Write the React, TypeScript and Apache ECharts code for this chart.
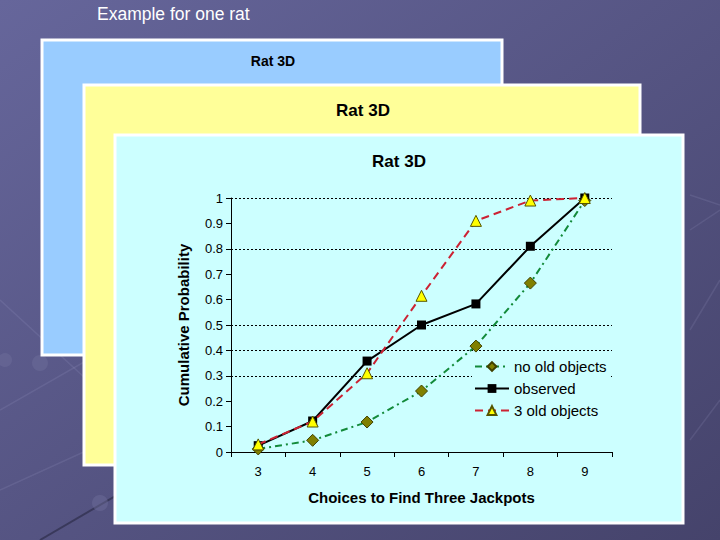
import React, { useEffect, useRef } from "react";
import * as echarts from "echarts";

const categories = ["3", "4", "5", "6", "7", "8", "9"];
const noOldObjects = [0.012, 0.046, 0.118, 0.24, 0.417, 0.665, 0.99];
const observed = [0.025, 0.122, 0.358, 0.5, 0.583, 0.81, 1.0];
const threeOldObjects = [0.03, 0.12, 0.31, 0.615, 0.91, 0.99, 1.0];
const gridLineValues = [0.3, 0.4, 0.5, 0.8, 1];

const FONT = "Liberation Sans, Arial, sans-serif";

export default function App() {
  const ref = useRef<HTMLDivElement>(null);
  useEffect(() => {
    const chart = echarts.init(ref.current!, undefined, { renderer: "svg" });
    const deco = "rgba(190,190,230,0.12)";
    const dark = "rgba(25,25,45,0.45)";
    const dot = "rgba(110,110,155,0.45)";
    const option: any = {
      animation: false,
      backgroundColor: {
        type: "linear", x: 0, y: 0, x2: 1, y2: 1,
        colorStops: [
          { offset: 0, color: "#66669b" },
          { offset: 1, color: "#45436b" },
        ],
      },
      graphic: [
        { type: "line", z: -5, shape: { x1: 0, y1: 300, x2: 240, y2: 520 }, style: { stroke: deco, lineWidth: 1.5 } },
        { type: "line", z: -5, shape: { x1: 0, y1: 410, x2: 140, y2: 330 }, style: { stroke: deco, lineWidth: 1.5 } },
        { type: "line", z: -5, shape: { x1: 40, y1: 540, x2: 160, y2: 470 }, style: { stroke: dark, lineWidth: 2 } },
        { type: "line", z: -5, shape: { x1: 0, y1: 490, x2: 110, y2: 440 }, style: { stroke: deco, lineWidth: 1.5 } },
        { type: "line", z: -5, shape: { x1: 690, y1: 230, x2: 720, y2: 210 }, style: { stroke: deco, lineWidth: 1.5 } },
        { type: "line", z: -5, shape: { x1: 690, y1: 330, x2: 720, y2: 280 }, style: { stroke: deco, lineWidth: 1.5 } },
        { type: "line", z: -5, shape: { x1: 690, y1: 195, x2: 720, y2: 205 }, style: { stroke: deco, lineWidth: 1.5 } },
        { type: "line", z: -5, shape: { x1: 690, y1: 440, x2: 720, y2: 400 }, style: { stroke: deco, lineWidth: 1.5 } },
        { type: "circle", z: -5, shape: { cx: 40, cy: 363, r: 8 }, style: { fill: dot } },
        { type: "circle", z: -5, shape: { cx: 100, cy: 503, r: 8 }, style: { fill: dot } },
        { type: "circle", z: -5, shape: { cx: 5, cy: 360, r: 7 }, style: { fill: dot } },
        { type: "text", z: -4, left: 97, top: 5, style: { text: "Example for one rat", fill: "#ffffff", font: `17.5px ${FONT}` } },
        { type: "rect", z: -3, shape: { x: 42, y: 40, width: 460, height: 315 }, style: { fill: "#99ccff", stroke: "#ffffff", lineWidth: 3 } },
        { type: "text", z: -3, x: 273, y: 61, style: { text: "Rat 3D", fill: "#000000", font: `bold 14px ${FONT}`, textAlign: "center", textVerticalAlign: "middle" } },
        { type: "rect", z: -2, shape: { x: 84, y: 85, width: 556, height: 380 }, style: { fill: "#ffff99", stroke: "#ffffff", lineWidth: 3 } },
        { type: "text", z: -2, x: 363, y: 110, style: { text: "Rat 3D", fill: "#000000", font: `bold 17px ${FONT}`, textAlign: "center", textVerticalAlign: "middle" } },
        { type: "rect", z: -1, shape: { x: 115, y: 135, width: 568, height: 388 }, style: { fill: "#ccffff", stroke: "#ffffff", lineWidth: 3 } },
        { type: "text", z: -1, x: 399, y: 161, style: { text: "Rat 3D", fill: "#000000", font: `bold 17px ${FONT}`, textAlign: "center", textVerticalAlign: "middle" } },
      ],
      grid: { left: 231, right: 108, top: 198, bottom: 88 },
      legend: {
        orient: "vertical",
        left: 472,
        top: 357,
        itemWidth: 34,
        itemHeight: 11,
        itemGap: 7,
        padding: [2, 4, 2, 2],
        backgroundColor: "#ccffff",
        textStyle: { fontFamily: FONT, fontSize: 15, color: "#000" },
        data: ["no old objects", "observed", "3 old objects"],
      },
      xAxis: {
        type: "category",
        data: categories,
        boundaryGap: true,
        name: "Choices to Find Three Jackpots",
        nameLocation: "middle",
        nameGap: 38,
        nameTextStyle: { fontFamily: FONT, fontSize: 15, fontWeight: "bold", color: "#000" },
        axisLine: { lineStyle: { color: "#000", width: 1 } },
        axisTick: { show: true, inside: false, length: 5, alignWithLabel: false, lineStyle: { color: "#000" } },
        axisLabel: { fontFamily: FONT, fontSize: 13, color: "#000", margin: 13 },
        splitLine: { show: false },
      },
      yAxis: {
        type: "value",
        min: 0,
        max: 1,
        interval: 0.1,
        name: "Cumulative Probability",
        nameLocation: "middle",
        nameGap: 40,
        nameTextStyle: { fontFamily: FONT, fontSize: 15, fontWeight: "bold", color: "#000" },
        axisLine: { show: true, lineStyle: { color: "#000", width: 1 } },
        axisTick: { show: true, inside: false, length: 5, lineStyle: { color: "#000" } },
        axisLabel: {
          fontFamily: FONT, fontSize: 13, color: "#000", margin: 8,
          formatter: (v: number) => String(Math.round(v * 10) / 10),
        },
        splitLine: { show: false },
      },
      series: [
        {
          name: "no old objects",
          type: "line",
          data: noOldObjects,
          symbol: "diamond",
          symbolSize: 12,
          itemStyle: { color: "#808000", borderColor: "#404000", borderWidth: 1 },
          lineStyle: { color: "#138a3a", width: 2, type: [7, 4, 2, 4] },
          z: 3,
        },
        {
          name: "observed",
          type: "line",
          data: observed,
          symbol: "rect",
          symbolSize: 9,
          itemStyle: { color: "#000000" },
          lineStyle: { color: "#000000", width: 2 },
          z: 4,
          markLine: {
            silent: true,
            symbol: ["none", "none"],
            label: { show: false },
            lineStyle: { color: "#000", width: 1, type: [2, 2] },
            data: gridLineValues.map((v) => ({ yAxis: v })),
            z: 1,
          },
        },
        {
          name: "3 old objects",
          type: "line",
          data: threeOldObjects,
          symbol: "triangle",
          symbolSize: 11,
          itemStyle: { color: "#ffff00", borderColor: "#555500", borderWidth: 1 },
          lineStyle: { color: "#cc2233", width: 2, type: [8, 5] },
          z: 5,
        },
      ],
    };
    chart.setOption(option);
    return () => chart.dispose();
  }, []);
  return (
    <div
      ref={ref}
      style={{ position: "fixed", left: 0, top: 0, width: 720, height: 540 }}
    />
  );
}
